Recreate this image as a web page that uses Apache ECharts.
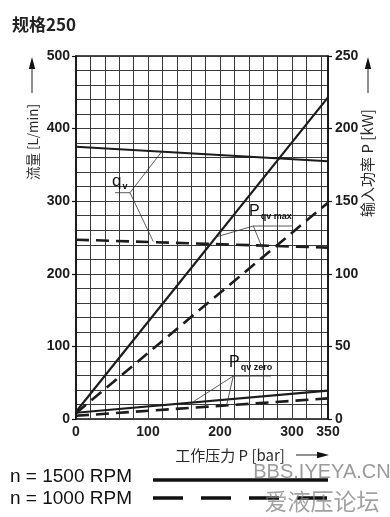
<!DOCTYPE html>
<html><head><meta charset="utf-8">
<script src="https://cdn.jsdelivr.net/npm/echarts@6/dist/echarts.min.js"></script>
<style>html,body{margin:0;padding:0;background:#fff}#c{width:390px;height:517px}</style>
</head><body><div id="c"></div>
<script>
// ---- data ----
const pressure   = [0, 350];          // bar
const flow1500   = [375, 355];        // L/min, qv n=1500
const flow1000   = [247, 236];        // L/min, qv n=1000
const pMax1500   = [5, 221.5];        // kW, P qv max n=1500
const pMax1000   = [4, 149];          // kW, P qv max n=1000
const pZero1500  = [4.3, 19.5];       // kW, P qv zero n=1500
const pZero1000  = [2.2, 14.2];       // kW, P qv zero n=1000
const xTickLabels = [0, 100, 200, 300, 350];
const flowTickLabels = [0, 100, 200, 300, 400, 500];
const powerTickLabels = [0, 50, 100, 150, 200, 250];

function pairs(xs, ys) { return xs.map((x, i) => [x, ys[i]]); }

const NUM = "'Liberation Sans', Arial, sans-serif";
const CJK = "'Noto Sans CJK SC', sans-serif";
const INK = '#1c1c1c';
const solid = { color: INK, width: 2.2 };
const dashed = { color: INK, width: 2.6, type: [13, 7] };

const chart = echarts.init(document.getElementById('c'), null, { renderer: 'canvas' });

function mk(name, data, yIdx, style) {
  return { name, type: 'line', xAxisIndex: 0, yAxisIndex: yIdx, data, symbol: 'none',
           lineStyle: style, silent: true, animation: false, z: 5 };
}

const option = {
  animation: false,
  backgroundColor: '#fff',
  grid: { left: 76, right: 62, top: 56, bottom: 98, show: true, borderColor: '#111', borderWidth: 1.5 },
  xAxis: [
    { type: 'value', min: 0, max: 350, interval: 20,
      axisLine: { show: false }, axisTick: { show: false }, axisLabel: { show: false },
      splitLine: { show: true, lineStyle: { color: '#3a3a3a', width: 1 } } },
    { type: 'value', min: 0, max: 350, interval: 50, position: 'bottom',
      axisLine: { show: false }, axisTick: { show: false }, splitLine: { show: false },
      axisLabel: { margin: 6, color: INK, fontFamily: NUM, fontWeight: 'bold', fontSize: 14,
        formatter: v => xTickLabels.includes(v) ? String(v) : '' } }
  ],
  yAxis: [
    { type: 'value', min: 0, max: 500, interval: 20, position: 'left',
      axisLine: { show: false }, axisTick: { show: false }, axisLabel: { show: false },
      splitLine: { show: true, lineStyle: { color: '#3a3a3a', width: 1 } } },
    { type: 'value', min: 0, max: 500, interval: 100, position: 'left',
      axisLine: { show: true, lineStyle: { color: '#111', width: 1.5 } },
      axisTick: { show: true, length: 4, lineStyle: { color: '#111', width: 1.2 } },
      splitLine: { show: false },
      axisLabel: { margin: 6, color: INK, fontFamily: NUM, fontWeight: 'bold', fontSize: 14,
        formatter: v => flowTickLabels.includes(v) ? String(v) : '' } },
    { type: 'value', min: 0, max: 250, interval: 50, position: 'right',
      axisLine: { show: true, lineStyle: { color: '#111', width: 1.5 } },
      axisTick: { show: true, length: 4, lineStyle: { color: '#111', width: 1.2 } },
      splitLine: { show: false },
      axisLabel: { margin: 7, color: INK, fontFamily: NUM, fontWeight: 'bold', fontSize: 14,
        formatter: v => powerTickLabels.includes(v) ? String(v) : '' } }
  ],
  series: [
    mk('qv 1500', pairs(pressure, flow1500), 1, solid),
    mk('qv 1000', pairs(pressure, flow1000), 1, dashed),
    mk('Pmax 1500', pairs(pressure, pMax1500), 2, solid),
    mk('Pmax 1000', pairs(pressure, pMax1000), 2, dashed),
    mk('Pzero 1500', pairs(pressure, pZero1500), 2, solid),
    mk('Pzero 1000', pairs(pressure, pZero1000), 2, dashed)
  ]
};
chart.setOption(option);

// ---- annotations / decorations ----
const thin = { stroke: '#333', lineWidth: 0.8, fill: null };
function ln(x1, y1, x2, y2, st) { return { type: 'line', shape: { x1, y1, x2, y2 }, style: Object.assign({}, thin, st || {}), z: 20, silent: true }; }
function pl(points, st) { return { type: 'polyline', shape: { points }, style: Object.assign({}, thin, st || {}), z: 20, silent: true }; }
function arrowUp(x, yTop, yBot) {
  return [ln(x, yBot, x, yTop + 10, { lineWidth: 1, stroke: '#222' }),
    { type: 'polygon', shape: { points: [[x, yTop], [x - 3.2, yTop + 12], [x + 3.2, yTop + 12]] }, style: { fill: '#111' }, z: 20, silent: true }];
}
function arrowRight(xL, xR, y) {
  return [ln(xL, y, xR - 10, y, { lineWidth: 1, stroke: '#222' }),
    { type: 'polygon', shape: { points: [[xR, y], [xR - 12, y - 3.2], [xR - 12, y + 3.2]] }, style: { fill: '#111' }, z: 20, silent: true }];
}
function rtext(x, y, text, font, rot) {
  return { type: 'text', x, y, rotation: rot || 0, z: 20, silent: true,
    style: { text, font, fill: '#2a2a2a', align: 'center', verticalAlign: 'middle' } };
}
function sub(x, y, main, subs, mainSize) {
  return { type: 'text', x, y, z: 21, silent: true,
    style: { text: '{a|' + main + '}{b|' + subs + '}', align: 'left', verticalAlign: 'bottom',
      rich: { a: { fontFamily: NUM, fontSize: mainSize, fill: '#111', fontWeight: 'normal', lineHeight: mainSize + 2 },
              b: { fontFamily: NUM, fontSize: 9, fontWeight: 'bold', fill: '#111', verticalAlign: 'bottom', padding: [0, 0, 0, 1], lineHeight: mainSize } } } };
}

const g = [];
// title
g.push({ type: 'text', x: 12, y: 25, z: 20, silent: true,
  style: { text: '规格250', font: "bold 17px 'Noto Sans CJK SC', 'Liberation Sans', sans-serif", fill: '#222', align: 'left', verticalAlign: 'middle' } });
// axis names
g.push(rtext(33, 142, '流量 [L/min]', "13.5px 'Noto Sans CJK SC', 'Liberation Sans', sans-serif", Math.PI / 2));
g.push(...arrowUp(32, 57, 93));
g.push(rtext(367, 163, '输入功率 P [kW]', "15px 'Noto Sans CJK SC', 'Liberation Sans', sans-serif", Math.PI / 2));
g.push(...arrowUp(368, 57, 93));
g.push(rtext(230, 455, '工作压力 P [bar]', "15px 'Noto Sans CJK SC', 'Liberation Sans', sans-serif", 0));
g.push(...arrowRight(296, 329, 455));
// qv annotation
g.push(sub(112, 191, 'q', 'v', 17));
g.push(pl([[115, 192.7], [130, 192.7], [161.7, 151.7]]));
g.push(ln(130, 192.7, 153.3, 241.7));
// P qv max annotation
g.push(sub(249, 221, 'P', 'qv max', 16));
g.push(pl([[215, 237.3], [253.3, 226], [292, 226]]));
g.push(ln(253.3, 226, 264, 252));
// P qv zero annotation
g.push(sub(229, 372, 'P', 'qv zero', 16));
g.push(pl([[193.3, 401.7], [233.3, 376], [271, 376]]));
g.push(ln(233.3, 376, 226.7, 405));
// legend
g.push({ type: 'text', x: 10, y: 477, z: 20, silent: true, style: { text: 'n = 1500 RPM', font: "19px 'Liberation Sans', Arial, sans-serif", fill: '#111', align: 'left', verticalAlign: 'middle' } });
g.push({ type: 'text', x: 10, y: 499, z: 20, silent: true, style: { text: 'n = 1000 RPM', font: "19px 'Liberation Sans', Arial, sans-serif", fill: '#111', align: 'left', verticalAlign: 'middle' } });
g.push(ln(153, 480, 328, 480, { lineWidth: 3.5, stroke: '#111' }));
g.push(ln(153, 498, 328, 498, { lineWidth: 3.5, stroke: '#111', lineDash: [30, 18] }));
// watermark
g.push({ type: 'text', x: 322, y: 472, z: 25, silent: true, style: { text: 'BBS.IYEYA.CN', font: "20px 'Liberation Sans Narrow', 'Liberation Sans', sans-serif", fill: 'rgba(130,130,130,0.8)', align: 'center', verticalAlign: 'middle' } });
g.push({ type: 'text', x: 322, y: 501, z: 25, silent: true, style: { text: '爱液压论坛', font: "23px 'Noto Sans CJK SC', sans-serif", fill: 'rgba(130,130,130,0.75)', align: 'center', verticalAlign: 'middle' } });

chart.setOption({ graphic: { elements: g } });
</script>
</body></html>
